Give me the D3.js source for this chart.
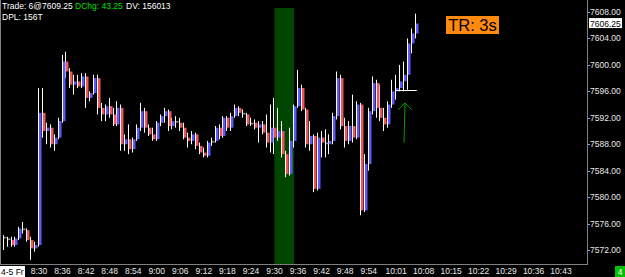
<!DOCTYPE html>
<html>
<head>
<meta charset="utf-8">
<script src="https://cdn.jsdelivr.net/npm/d3@7"></script>
<style>
  html, body { margin: 0; padding: 0; background: #000; }
  svg { display: block; }
  text { font-family: "Liberation Sans", Arial, sans-serif; }
</style>
</head>
<body>
<div id="chart"></div>
<script>
// one bar per minute, first bar at 8:21
var firstBar = "8:21"

var opens = [7574, 7573.75, 7573.5, 7572.75, 7573.75, 7575.25, 7575, 7573.5, 7572.25, 7572.75,
  7592.75, 7590, 7590.5, 7588, 7589, 7591.5, 7600.5, 7599, 7597, 7597.5,
  7596.75, 7598.25, 7595, 7595.75, 7598, 7593.5, 7592.5, 7593.75, 7592.5, 7591,
  7593.5, 7588, 7588.75, 7587.25, 7588.75, 7590.5, 7593, 7590.5, 7589.5, 7588.75,
  7591.25, 7592.25, 7593, 7590.75, 7591.5, 7591.25, 7590.5, 7589, 7588.5, 7589.5,
  7587.75, 7586.75, 7586.25, 7588.25, 7588.5, 7590.5, 7589.25, 7592, 7590.5, 7592.25,
  7593.5, 7592.75, 7592.5, 7591, 7591.25, 7590.5, 7591, 7589.75, 7588.25, 7590.5,
  7589, 7590, 7586.5, 7583.5, 7588.5, 7593.75, 7596.5, 7593.25, 7588, 7589.25,
  7581.25, 7589, 7588.25, 7588, 7588.5, 7592.25, 7598, 7590.75, 7588.5, 7590.75,
  7589, 7594, 7578, 7585, 7593, 7597.25, 7593.5, 7592, 7591, 7594,
  7596, 7596.5, 7597.5, 7598.5, 7603.25, 7604.75]
var highs = [7574.25, 7574, 7574, 7574, 7575.5, 7576.25, 7575.25, 7574, 7573.25, 7596.5,
  7596.5, 7591.25, 7591, 7589.5, 7592, 7601.5, 7602, 7599.5, 7598.5, 7598.5,
  7598.75, 7598.75, 7596, 7598.5, 7598.5, 7594.25, 7594, 7595, 7593.5, 7594.5,
  7594, 7589.5, 7591, 7589, 7591, 7594.25, 7593.5, 7591, 7590.5, 7591.5,
  7592.5, 7593.5, 7593.25, 7592, 7592.25, 7592, 7591.25, 7589.75, 7590, 7589.75,
  7588.25, 7587.5, 7588.5, 7589, 7590.75, 7591, 7592.25, 7592.25, 7592.75, 7594,
  7593.75, 7593.25, 7592.75, 7592, 7591.75, 7591.5, 7591.5, 7592.5, 7594, 7595,
  7593.5, 7591.5, 7587, 7590.5, 7594, 7599.25, 7597, 7593.5, 7591.5, 7589.5,
  7589.75, 7590, 7590.25, 7589.5, 7592.75, 7599, 7598.5, 7592, 7591.5, 7595.5,
  7594.5, 7594.25, 7586.5, 7593.5, 7598.25, 7597.75, 7597, 7593.5, 7594.5, 7597.75,
  7598.5, 7600, 7600.5, 7604, 7605.5, 7607.75]
var lows = [7572, 7572.5, 7572.5, 7572.5, 7573.5, 7574.5, 7573.25, 7570.5, 7571.75, 7572.5,
  7589, 7588, 7587.5, 7587, 7588.75, 7591.25, 7598, 7596.5, 7595.5, 7596.5,
  7596.5, 7593.5, 7594.5, 7595.5, 7592.5, 7591.5, 7591.5, 7592, 7590.75, 7590.75,
  7587, 7587, 7586.5, 7586.75, 7588.5, 7590, 7589.75, 7589.25, 7588.5, 7588.5,
  7590.75, 7591.25, 7590, 7590.25, 7590.5, 7590, 7588.75, 7587.5, 7588, 7587.25,
  7586.5, 7586, 7586, 7587.75, 7588.25, 7588.75, 7589, 7590, 7590, 7592,
  7592.25, 7592, 7590.75, 7590.75, 7590.25, 7588.25, 7589.5, 7587.5, 7586.75, 7586.5,
  7588.5, 7586, 7583, 7583.25, 7587.5, 7593.5, 7593, 7587.5, 7587, 7580.75,
  7581, 7586, 7586, 7586.5, 7588, 7591.75, 7590.25, 7587.5, 7588, 7588.25,
  7588.75, 7577.25, 7577.75, 7584, 7592.5, 7592, 7591.5, 7590, 7590.5, 7593.5,
  7594.75, 7596, 7596, 7596.25, 7601.75, 7604]
var closes = [7573.75, 7573.5, 7572.75, 7573.75, 7575.25, 7575, 7573.5, 7572.25, 7572.75, 7592.75,
  7590, 7590.5, 7588, 7589, 7591.5, 7600.5, 7599, 7597, 7597.5, 7596.75,
  7598.25, 7595, 7595.75, 7598, 7593.5, 7592.5, 7593.75, 7592.5, 7591, 7593.5,
  7588, 7588.75, 7587.25, 7588.75, 7590.5, 7593, 7590.5, 7589.5, 7588.75, 7591.25,
  7592.25, 7593, 7590.75, 7591.5, 7591.25, 7590.5, 7589, 7588.5, 7589.5, 7587.75,
  7586.75, 7586.25, 7588.25, 7588.5, 7590.5, 7589.25, 7592, 7590.5, 7592.25, 7593.5,
  7592.75, 7592.5, 7591, 7591.25, 7590.5, 7591, 7589.75, 7588.25, 7590.5, 7589,
  7590, 7586.5, 7583.5, 7588.5, 7593.75, 7596.5, 7593.25, 7588, 7589.25, 7581.25,
  7589, 7588.25, 7588, 7588.5, 7592.25, 7598, 7590.75, 7588.5, 7590.75, 7589,
  7594, 7578, 7585, 7593, 7597.25, 7593.5, 7592, 7591, 7594, 7596,
  7596.5, 7597.5, 7598.5, 7603.25, 7604.75, 7606.25]

var xTickLabels = ["8:30", "8:36", "8:42", "8:48", "8:54", "9:00", "9:06", "9:12", "9:18", "9:24",
  "9:30", "9:36", "9:42", "9:48", "9:54", "10:01", "10:08", "10:15", "10:22", "10:29", "10:36", "10:43"]
var yTicks = [7572, 7576, 7580, 7584, 7588, 7592, 7596, 7600, 7604, 7608]

var sessionStart = "9:30", sessionEnd = "9:35"
var lastPrice = 7606.25
var markerPrice = 7596.25, markerFrom = "10:01", markerTo = "10:06"
var arrowTime = "10:03", arrowFrom = 7588.25, arrowTo = 7594.25

var width = 625,
  height = 277,
  plotRight = 587,
  plotBottom = 264,
  small = "8.5px"

function toMin(s) {
  var p = s.split(":")
  return +p[0] * 60 + +p[1]
}

var svg = d3.select("#chart")
  .append("svg")
  .attr("width", width)
  .attr("height", height)

svg.append("rect").attr("width", width).attr("height", height).attr("fill", "#000")

var x = d3.scaleLinear().domain([toMin("8:30"), toMin("10:43")]).range([39, 561])
var y = d3.scaleLinear().domain([7572, 7608]).range([250, 12])

var bars = opens.map(function (o, i) {
  return { t: toMin(firstBar) + i, o: o, h: highs[i], l: lows[i], c: closes[i] }
})

svg.append("clipPath").attr("id", "plot")
  .append("rect").attr("x", 1).attr("y", 0).attr("width", plotRight - 1).attr("height", plotBottom)

var plot = svg.append("g").attr("clip-path", "url(#plot)")

// opening range band
plot.append("rect")
  .attr("x", x(toMin(sessionStart)))
  .attr("y", 8)
  .attr("width", x(toMin(sessionEnd)) - x(toMin(sessionStart)))
  .attr("height", plotBottom - 8)
  .attr("fill", "#004600")

// wicks
plot.selectAll("line.wick")
  .data(bars)
  .enter()
  .append("line")
  .attr("class", "wick")
  .attr("x1", function (d) { return Math.round(x(d.t)) - 0.5 })
  .attr("x2", function (d) { return Math.round(x(d.t)) - 0.5 })
  .attr("y1", function (d) { return y(d.h) })
  .attr("y2", function (d) { return y(d.l) })
  .attr("stroke", "#fff")
  .attr("stroke-width", 1)

// bodies
plot.selectAll("rect.body")
  .data(bars)
  .enter()
  .append("rect")
  .attr("class", "body")
  .attr("x", function (d) { return Math.round(x(d.t)) })
  .attr("y", function (d) { return y(Math.max(d.o, d.c)) })
  .attr("width", 2.5)
  .attr("height", function (d) { return Math.max(1.5, Math.abs(y(d.o) - y(d.c))) })
  .attr("fill", function (d) {
    var diff = d.c - d.o
    if (diff > 0.25) return "#5a5aff"
    if (diff < -0.25) return "#f25555"
    return "#858585"
  })

// marker line and arrow
plot.append("line")
  .attr("x1", x(toMin(markerFrom)))
  .attr("x2", x(toMin(markerTo)) + 1)
  .attr("y1", Math.round(y(markerPrice)) + 0.5)
  .attr("y2", Math.round(y(markerPrice)) + 0.5)
  .attr("stroke", "#fff")
  .attr("stroke-width", 1)

var ax = x(toMin(arrowTime)) + 1, ay = y(arrowTo)
plot.append("path")
  .attr("d", "M" + (ax - 1) + "," + y(arrowFrom) + "L" + ax + "," + ay +
    "M" + (ax - 7) + "," + (ay + 7) + "L" + ax + "," + ay + "L" + (ax + 7) + "," + (ay + 7))
  .attr("fill", "none")
  .attr("stroke", "#00a000")
  .attr("stroke-width", 1)

// frame
svg.append("line").attr("x1", 0.5).attr("x2", 0.5).attr("y1", 0).attr("y2", plotBottom)
  .attr("stroke", "#808080")
svg.append("line").attr("x1", plotRight + 0.5).attr("x2", plotRight + 0.5).attr("y1", 0).attr("y2", plotBottom + 1)
  .attr("stroke", "#808080")
svg.append("line").attr("x1", 0).attr("x2", plotRight + 1).attr("y1", plotBottom + 0.5).attr("y2", plotBottom + 0.5)
  .attr("stroke", "#808080")

// y axis
var yAxis = svg.append("g")
yAxis.selectAll("line")
  .data(yTicks)
  .enter()
  .append("line")
  .attr("x1", plotRight + 1)
  .attr("x2", plotRight + 3)
  .attr("y1", function (d) { return Math.round(y(d)) + 0.5 })
  .attr("y2", function (d) { return Math.round(y(d)) + 0.5 })
  .attr("stroke", "#aaa")
yAxis.selectAll("text")
  .data(yTicks)
  .enter()
  .append("text")
  .attr("x", 590)
  .attr("y", function (d) { return y(d) + 3 })
  .attr("fill", "#e8e8e8")
  .attr("font-size", small)
  .text(function (d) { return d.toFixed(2) })

// last price box
svg.append("rect")
  .attr("x", 589).attr("y", y(lastPrice) - 5.5)
  .attr("width", 33).attr("height", 10)
  .attr("fill", "#fff")
svg.append("text")
  .attr("x", 590).attr("y", y(lastPrice) + 3)
  .attr("fill", "#000")
  .attr("font-size", small)
  .text(lastPrice.toFixed(2))

// x axis
svg.selectAll("text.xt")
  .data(xTickLabels)
  .enter()
  .append("text")
  .attr("class", "xt")
  .attr("x", function (d) { return x(toMin(d)) })
  .attr("y", 274)
  .attr("text-anchor", "middle")
  .attr("fill", "#e8e8e8")
  .attr("font-size", small)
  .text(function (d) { return d })

svg.append("rect").attr("x", 0).attr("y", 266).attr("width", 25).attr("height", 11).attr("fill", "#fff")
svg.append("text").attr("x", 1).attr("y", 274.5).attr("fill", "#000").attr("font-size", small).text("4-5 Fr")

svg.append("rect").attr("x", 615).attr("y", 266).attr("width", 10).attr("height", 11).attr("fill", "#00c000")
svg.append("text").attr("x", 620).attr("y", 275).attr("text-anchor", "middle")
  .attr("fill", "#fff").attr("font-size", small).text("4")

// header
function headText(tx, ty, color, s) {
  svg.append("text").attr("x", tx).attr("y", ty).attr("font-size", small).attr("fill", color).text(s)
}
headText(2, 8.5, "#fff", "Trade: 6@7609.25")
headText(75, 8.5, "#00e000", "DChg: 43.25")
headText(126, 8.5, "#fff", "DV: 156013")
headText(2, 19.5, "#fff", "DPL: 156T")

// timer box
svg.append("rect").attr("x", 446).attr("y", 16).attr("width", 53).attr("height", 18).attr("fill", "#ff8a0e")
svg.append("text").attr("x", 472.5).attr("y", 31).attr("text-anchor", "middle")
  .attr("font-size", "16.5px").attr("fill", "#000").text("TR: 3s")
</script>
</body>
</html>
